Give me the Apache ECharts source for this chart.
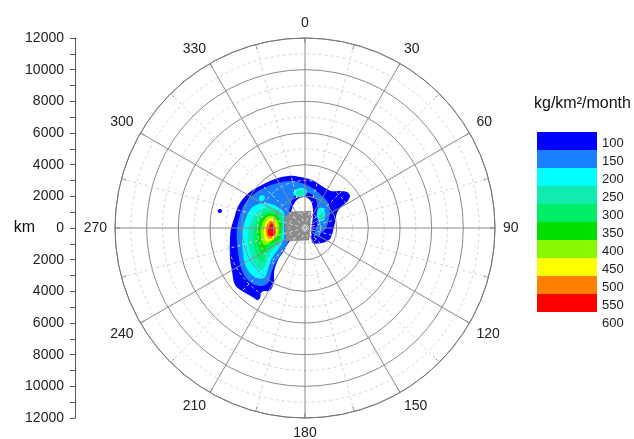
<!DOCTYPE html>
<html>
<head>
<meta charset="utf-8">
<script src="https://cdn.jsdelivr.net/npm/echarts@6/dist/echarts.min.js"></script>
<style>
  html, body { margin: 0; padding: 0; background: #fff; }
  #chart { width: 634px; height: 439px; }
</style>
</head>
<body>
<div id="chart"></div>
<script>
  // contour levels (kg/km2/month) and their fill colours
  const levels = [100, 150, 200, 250, 300, 350, 400, 450, 500, 550]
  const levelColors = ['#0000ff', '#1a80ff', '#00ffff', '#10ecb0', '#00ee66',
    '#00e000', '#88f800', '#ffff00', '#ff8000', '#ff0000']
  const legendTicks = [100, 150, 200, 250, 300, 350, 400, 450, 500, 550, 600]

  // contour outlines, [east km, north km] from the centre
  const level100 = [[440, -880], [1070, -950], [1580, -700], [1770, -190], [1900, 380], [2020, 950],
    [2280, 1330], [2650, 1640], [2840, 2020], [2650, 2280], [2210, 2340], [1640, 2340], [1070, 2650],
    [440, 3030], [-320, 3220], [-1070, 3290], [-1900, 3100], [-2720, 2720], [-3480, 2280], [-3980, 1770],
    [-4300, 1200], [-4490, 570], [-4680, -60], [-4740, -760], [-4740, -1900], [-4610, -2720], [-4420, -3600],
    [-3980, -3980], [-3540, -4230], [-3220, -4420], [-3030, -4550], [-2840, -4420], [-2780, -4110],
    [-2590, -3980], [-2280, -3980], [-2090, -3790], [-1960, -3350], [-1960, -2970], [-1900, -2530],
    [-1640, -1900], [-1330, -1450], [-1140, -1070], [-950, -760], [-1140, 190], [-880, 1010], [-700, 1520],
    [-440, 1830], [-60, 1960], [250, 1830], [440, 1520], [510, 1010]]
  const level100Dot = [[-5500, 1130], [-5370, 1200], [-5250, 1130], [-5250, 1010], [-5370, 950], [-5500, 1010]]
  const level150 = [[570, -510], [950, -380], [1330, 0], [1520, 630], [1580, 1260], [1390, 1710],
    [1070, 2020], [570, 2460], [-60, 2780], [-820, 2970], [-1710, 2840], [-2590, 2530], [-3220, 2150],
    [-3670, 1710], [-3980, 1200], [-4170, 570], [-4300, -60], [-4300, -760], [-4230, -1450], [-4110, -2280],
    [-3860, -2970], [-3540, -3350], [-3160, -3600], [-2720, -3670], [-2400, -3540], [-2210, -3220],
    [-2090, -2720], [-1900, -2280], [-1580, -1770], [-1260, -1260], [-1070, -820], [-1200, 190],
    [-950, 1260], [-820, 1770], [-510, 2150], [-60, 2280], [380, 2150], [700, 1770], [820, 1140], [760, 190]]
  const level200 = [[-1330, 950], [-1830, 1390], [-2460, 1580], [-3100, 1450], [-3480, 1140], [-3730, 630],
    [-3920, -60], [-3980, -760], [-3920, -1450], [-3790, -2280], [-3480, -2840], [-3030, -3160],
    [-2590, -3160], [-2400, -2840], [-2280, -2400], [-2090, -1900], [-1770, -1450], [-1520, -1070],
    [-1330, -630], [-1330, 190]]
  const level200North = [[-760, 2210], [-510, 2460], [-130, 2530], [130, 2340], [0, 2020], [-440, 1960]]
  const level200Spot = [[-2910, 1900], [-2720, 2090], [-2530, 1960], [-2650, 1710], [-2840, 1710]]
  const level200East = [[760, 1010], [880, 1260], [1140, 1260], [1260, 950], [1200, 510], [950, 440], [760, 700]]
  const level250 = [[-1390, 820], [-1830, 1200], [-2340, 1330], [-2840, 1140], [-3220, 760], [-3480, 190],
    [-3600, -510], [-3540, -1260], [-3350, -1900], [-3100, -2400], [-2780, -2650], [-2530, -2460],
    [-2400, -2020], [-2150, -1520], [-1770, -1070], [-1450, -760], [-1390, 0]]
  const level250North = [[-570, 2280], [-320, 2400], [-60, 2340], [-190, 2090], [-510, 2090]]
  const level250East = [[880, 950], [1070, 1070], [1140, 760], [950, 630]]
  const level300 = [[-1450, 630], [-1830, 1010], [-2280, 1070], [-2720, 880], [-3030, 510], [-3220, -60],
    [-3290, -760], [-3160, -1390], [-2970, -1900], [-2720, -2150], [-2530, -1830], [-2340, -1450],
    [-2020, -1140], [-1580, -820], [-1450, -130]]
  const level350 = [[-1520, 440], [-1900, 820], [-2340, 880], [-2720, 630], [-2910, 130], [-2970, -510],
    [-2910, -1140], [-2720, -1580], [-2530, -1390], [-2340, -1070], [-1960, -880], [-1580, -630], [-1520, -130]]
  const level400 = [[-1640, 250], [-1900, 700], [-2280, 760], [-2590, 510], [-2780, 0], [-2780, -570],
    [-2650, -1010], [-2400, -1070], [-2090, -820], [-1770, -570], [-1640, -190]]
  const level450 = [[-1770, 130], [-1960, 570], [-2210, 630], [-2460, 380], [-2590, -60], [-2590, -510],
    [-2460, -820], [-2210, -820], [-1960, -630], [-1770, -320]]
  const level500 = [[-1830, -60], [-2020, 380], [-2210, 440], [-2400, 190], [-2460, -190], [-2400, -570],
    [-2210, -700], [-2020, -570], [-1830, -380]]
  const level550 = [[-1900, -190], [-2090, 320], [-2210, 190], [-2340, -130], [-2340, -380], [-2210, -510], [-2020, -510]]
  const cityBox = [[-1010, 1010], [380, 1070], [250, -760], [-1200, -820], [-1260, 630]]

  const shapes = [
    [100, level100], [100, level100Dot], [150, level150],
    [200, level200], [200, level200North], [200, level200Spot], [200, level200East],
    [250, level250], [250, level250North], [250, level250East],
    [300, level300], [350, level350], [400, level400], [450, level450], [500, level500], [550, level550]
  ]

  const font = 'Liberation Sans, Arial, sans-serif'
  const chart = echarts.init(document.getElementById('chart'))

  const legendSeries = [{
    type: 'bar', xAxisIndex: 1, yAxisIndex: 1, stack: 'key', barWidth: '100%',
    data: [legendTicks[0]], itemStyle: { color: 'rgba(0,0,0,0)' }, silent: true
  }]
  levels.forEach((lv, i) => {
    legendSeries.push({
      type: 'bar', xAxisIndex: 1, yAxisIndex: 1, stack: 'key', barWidth: '100%',
      data: [legendTicks[i + 1] - legendTicks[i]], itemStyle: { color: levelColors[i] }, silent: true
    })
  })

  chart.setOption({
    animation: false,
    backgroundColor: '#fff',
    textStyle: { fontFamily: font },
    title: {
      text: 'kg/km²/month',
      left: 529, top: 91,
      textStyle: { fontSize: 16, fontWeight: 'normal', color: '#111', fontFamily: font }
    },
    polar: { center: [305, 228], radius: 190 },
    angleAxis: {
      type: 'value', min: 0, max: 360, interval: 30, startAngle: 90, clockwise: true, z: 10,
      axisLine: { lineStyle: { color: '#777', width: 1 } },
      axisTick: { show: true, inside: true, length: 5, lineStyle: { color: '#777' } },
      minorTick: { show: true, splitNumber: 2, length: 5, lineStyle: { color: '#777' } },
      axisLabel: {
        margin: 8, fontSize: 14, color: '#222', fontFamily: font,
        formatter: v => (v === 360 ? '' : String(v))
      },
      splitLine: { show: true, lineStyle: { color: '#8a8a8a', width: 1 } },
      minorSplitLine: { show: true, lineStyle: { color: '#d4d4d4', type: [3, 3] } }
    },
    radiusAxis: {
      type: 'value', min: 0, max: 12000, interval: 2000, z: 10,
      axisLine: { show: false }, axisTick: { show: false }, axisLabel: { show: false },
      splitLine: { show: true, lineStyle: { color: '#8a8a8a', width: 1 } },
      minorTick: { show: false, splitNumber: 2 },
      minorSplitLine: { show: true, lineStyle: { color: '#d4d4d4', type: [3, 3] } }
    },
    grid: [
      { left: 115, top: 38, width: 380, height: 380 },
      { left: 537, top: 132, width: 60, height: 180 }
    ],
    xAxis: [
      { type: 'value', gridIndex: 0, min: -12000, max: 12000, show: false },
      { type: 'category', gridIndex: 1, data: [''], show: false }
    ],
    yAxis: [
      {
        type: 'value', gridIndex: 0, min: -12000, max: 12000, interval: 2000, offset: 40,
        name: 'km', nameLocation: 'middle', nameRotate: 0, nameGap: 40, nameMoveOverlap: false,
        nameTextStyle: { fontSize: 16, color: '#111', fontFamily: font },
        axisLine: { show: true, onZero: false, lineStyle: { color: '#555' } },
        axisTick: { show: true, length: 5, lineStyle: { color: '#555' } },
        minorTick: { show: true, splitNumber: 2, length: 5, lineStyle: { color: '#555' } },
        axisLabel: { margin: 11, fontSize: 14, color: '#222', fontFamily: font, formatter: v => String(Math.abs(v)) },
        splitLine: { show: false }
      },
      {
        type: 'value', gridIndex: 1, min: 100, max: 600, interval: 50, inverse: true, position: 'right',
        axisLine: { show: false }, axisTick: { show: false }, splitLine: { show: false },
        axisLabel: { margin: 5, fontSize: 13, color: '#222', fontFamily: font, verticalAlign: 'top', padding: [5, 0, 0, 0] }
      }
    ],
    series: [
      {
        type: 'custom', coordinateSystem: 'cartesian2d', xAxisIndex: 0, yAxisIndex: 0, z: 2, silent: true,
        data: shapes.map(s => s[1][0]),
        renderItem: (params, api) => {
          const s = shapes[params.dataIndex]
          return {
            type: 'polygon',
            shape: { points: s[1].map(p => api.coord(p)), smooth: 0.35 },
            style: { fill: levelColors[levels.indexOf(s[0])], stroke: null }
          }
        }
      },
      {
        type: 'custom', coordinateSystem: 'cartesian2d', xAxisIndex: 0, yAxisIndex: 0, z: 3, silent: true,
        data: [cityBox[0]],
        renderItem: (params, api) => ({
          type: 'polygon',
          shape: { points: cityBox.map(p => api.coord(p)) },
          style: { fill: '#8c8c8c', stroke: '#7a7a7a', lineWidth: 0.5 }
        })
      }
    ].concat(legendSeries)
  })
</script>
</body>
</html>
